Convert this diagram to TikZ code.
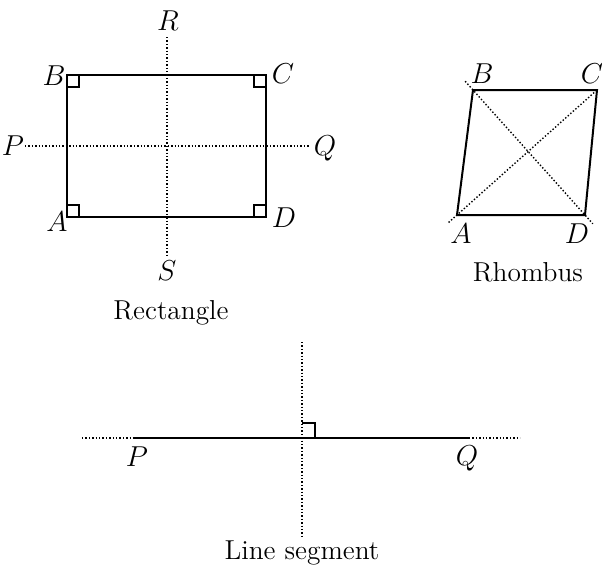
\documentclass[tikz,border=0pt]{standalone}
\usepackage{amsmath,amssymb}
\usepackage{tikz}
\usetikzlibrary{positioning, calc}

\begin{document}
\begin{tikzpicture}[
    x=0.5pt, y=-0.5pt,
    edge/.style={line width=1pt, line join=miter},
    axis/.style={line width=0.7pt, densely dotted},
    rmark/.style={line width=0.8pt},
    lbl/.style={font=\fontsize{14}{16}\selectfont, inner sep=1pt},
    captxt/.style={font=\fontsize{13.7}{16}\selectfont, inner sep=0pt}
]
\useasboundingbox (0,0) rectangle (602,574);

% Rectangle
\coordinate (A) at (67,217);
\coordinate (B) at (67,75);
\coordinate (C) at (266,75);
\coordinate (D) at (266,217);
\draw[edge] (A) -- (B) -- (C) -- (D) -- cycle;
\draw[rmark] ($(B)+(0,12)$) -| ($(B)+(12,0)$);
\draw[rmark] ($(C)+(0,12)$) -| ($(C)+(-12,0)$);
\draw[rmark] ($(A)+(0,-12)$) -| ($(A)+(12,0)$);
\draw[rmark] ($(D)+(0,-12)$) -| ($(D)+(-12,0)$);
\coordinate (r1) at (167,37);
\coordinate (s1) at (167,257);
\coordinate (p1) at (25,146);
\coordinate (q1) at (310,146);
\draw[axis] (r1) -- (s1);
\draw[axis] (p1) -- (q1);
\node[lbl] (lR) at (168,21) {$R$};
\node[lbl] (lS) at (167,271) {$S$};
\node[lbl] (lP) at (13,146) {$P$};
\node[lbl] (lQ) at (325,148) {$Q$};
\node[lbl] (lB) at (54,76) {$B$};
\node[lbl] (lC) at (283,74) {$C$};
\node[lbl] (lA) at (57,222) {$A$};
\node[lbl] (lD) at (284,218) {$D$};
\node[captxt] (rect) at (171,313) {Rectangle};

% Rhombus
\coordinate (rA) at (457,215);
\coordinate (rB) at (473,90);
\coordinate (rC) at (597,90);
\coordinate (rD) at (585,215);
\draw[edge] (rA) -- (rB) -- (rC) -- (rD) -- cycle;
\draw[axis] ($(rA)!-0.06!(rC)$) -- (rC);
\draw[axis] ($(rB)!-0.07!(rD)$) -- ($(rD)!-0.07!(rB)$);
\node[lbl] (mB) at (482,74) {$B$};
\node[lbl] (mC) at (592,74) {$C$};
\node[lbl] (mA) at (461,234) {$A$};
\node[lbl] (mD) at (577,234) {$D$};
\node[captxt] (rhomb) at (528,272) {Rhombus};

% Line segment
\coordinate (sP) at (133,438);
\coordinate (sQ) at (469,438);
\coordinate (sL) at (82,438);
\coordinate (sR) at (520,438);
\coordinate (sT) at (302,342);
\coordinate (sB) at (302,536);
\draw[edge] (sP) -- (sQ);
\draw[axis] (sL) -- (sP);
\draw[axis] (sQ) -- (sR);
\draw[axis] (sT) -- (sB);
\draw[rmark] (302,423) -| (315,438);
\node[lbl] (nP) at (137,457) {$P$};
\node[lbl] (nQ) at (467,458) {$Q$};
\node[captxt] (seg) at (302,553) {Line segment};

\end{tikzpicture}
\end{document}
